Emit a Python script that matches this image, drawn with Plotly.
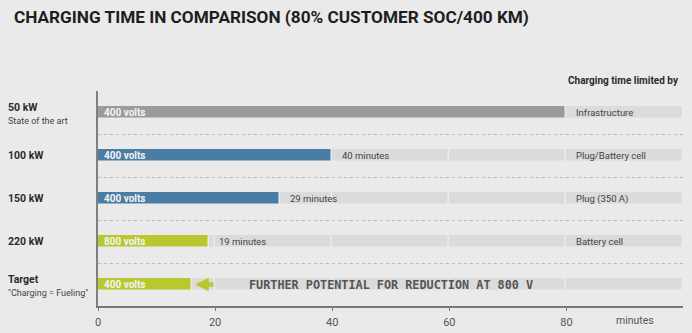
import plotly.graph_objects as go

# ---- data ----
rows = ["50 kW", "100 kW", "150 kW", "220 kW", "Target"]
row_notes = ["State of the art", "", "", "", "\"Charging = Fueling\""]
minutes = [80, 40, 31, 19, 16]
voltages = ["400 volts", "400 volts", "400 volts", "800 volts", "400 volts"]
time_labels = ["", "40 minutes", "29 minutes", "19 minutes", ""]
limited_by = ["Infrastructure", "Plug/Battery cell", "Plug (350 A)", "Battery cell", ""]
bar_colors = ["#9b9b9b", "#4a7da3", "#4a7da3", "#b8c82e", "#b8c82e"]
segment_edges = [0, 20, 40, 60, 80, 99.9]
x_ticks = [0, 20, 40, 60, 80]
potential_text = "FURTHER POTENTIAL FOR REDUCTION AT 800 V"
arrow_from, arrow_to = 20.0, 16.6

BG = "#eaeaea"
TRACK = "#dbdbdb"
FONT = "Roboto, Arial, sans-serif"

L, R, T, B = 98, 9, 91, 27
W, H = 692, 333
PW = W - L - R
PH = H - T - B


def px(xp):
    return (xp - L) / PW


def py(yp):
    return (H - B - yp) / PH


fig = go.Figure()
ypos = list(range(len(rows)))

# background tracks
for a, b in zip(segment_edges[:-1], segment_edges[1:]):
    fig.add_trace(go.Bar(
        y=ypos, x=[b - a] * len(rows), base=[a] * len(rows), orientation="h",
        width=0.3, marker=dict(color=TRACK, line=dict(color=BG, width=1.5)),
        hoverinfo="skip", showlegend=False))

# bars
fig.add_trace(go.Bar(
    y=ypos, x=minutes, base=[0] * len(rows), orientation="h", width=0.3,
    marker=dict(color=bar_colors, line=dict(color=BG, width=1.5)),
    hoverinfo="skip", showlegend=False))

ann = []
for i, r in enumerate(rows):
    # left labels
    if row_notes[i]:
        ann.append(dict(x=px(6), y=i, xref="paper", yref="y", text=f"<b>{r}</b>",
                        xanchor="left", yanchor="middle", yshift=5, showarrow=False,
                        font=dict(size=10.5, color="#2a2a2a", family=FONT)))
        ann.append(dict(x=px(6), y=i, xref="paper", yref="y", text=row_notes[i],
                        xanchor="left", yanchor="middle", yshift=-8, showarrow=False,
                        font=dict(size=9, color="#444", family=FONT)))
    else:
        ann.append(dict(x=px(6), y=i, xref="paper", yref="y", text=f"<b>{r}</b>",
                        xanchor="left", yanchor="middle", showarrow=False,
                        font=dict(size=10.5, color="#2a2a2a", family=FONT)))
    # voltage inside bar
    ann.append(dict(x=0, y=i, xref="x", yref="y", text=f"<b>{voltages[i]}</b>",
                    xanchor="left", yanchor="middle", xshift=4, showarrow=False,
                    font=dict(size=10, color="#f4f4f4", family=FONT)))
    if time_labels[i]:
        ann.append(dict(x=minutes[i], y=i, xref="x", yref="y", text=time_labels[i],
                        xanchor="left", yanchor="middle", xshift=8, showarrow=False,
                        font=dict(size=9.5, color="#444", family=FONT)))
    if limited_by[i]:
        ann.append(dict(x=segment_edges[-2], y=i, xref="x", yref="y", text=limited_by[i],
                        xanchor="left", yanchor="middle", xshift=8, showarrow=False,
                        font=dict(size=9.5, color="#444", family=FONT)))

# header
ann.append(dict(x=px(681), y=py(81), xref="paper", yref="paper",
                text="<b>Charging time limited by</b>", xanchor="right", yanchor="middle",
                showarrow=False, font=dict(size=10, color="#2a2a2a", family=FONT)))
# potential text
ann.append(dict(x=px(247), y=4, xref="paper", yref="y", text=f"<b>{potential_text}</b>",
                xanchor="left", yanchor="middle", showarrow=False,
                font=dict(size=11.8, color="#555", family="DejaVu Sans Mono, monospace")))
# arrow
ann.append(dict(x=arrow_to, y=4, ax=arrow_from, ay=4, xref="x", yref="y",
                axref="x", ayref="y", text="", showarrow=True, arrowhead=2,
                arrowsize=0.6, arrowwidth=4.5, arrowcolor="#b8c82e", standoff=0))
# "minutes" axis unit
ann.append(dict(x=px(614), y=py(320), xref="paper", yref="paper", text="minutes",
                xanchor="left", yanchor="middle", showarrow=False,
                font=dict(size=10.5, color="#555", family=FONT)))

fig.update_layout(
    width=W, height=H, margin=dict(l=L, r=R, t=T, b=B, autoexpand=False),
    paper_bgcolor=BG, plot_bgcolor=BG, barmode="overlay", bargap=0,
    title=dict(text="<b>CHARGING TIME IN COMPARISON (80% CUSTOMER SOC/400 KM)</b>",
               x=14 / W, xanchor="left", y=1 - 17 / H, yanchor="middle",
               font=dict(size=17.2, color="#1e1e1e", family=FONT)),
    annotations=ann,
    xaxis=dict(range=[0, 99.9], tickvals=x_ticks, showgrid=False, zeroline=False,
               showline=True, linecolor="#777", linewidth=1.5, ticks="outside",
               ticklen=3, tickcolor="#777", ticklabelstandoff=2, automargin=False,
               tickfont=dict(size=11, color="#555", family=FONT), fixedrange=True),
    yaxis=dict(range=[4.5, -0.5], tickvals=[-0.5, 0.5, 1.5, 2.5, 3.5],
               showticklabels=False, showgrid=True, gridcolor="#bcbcbc",
               griddash="dot", gridwidth=1, zeroline=False, showline=True,
               automargin=False,
               linecolor="#808080", linewidth=2, ticks="", fixedrange=True),
)

fig.write_html("out.html")
